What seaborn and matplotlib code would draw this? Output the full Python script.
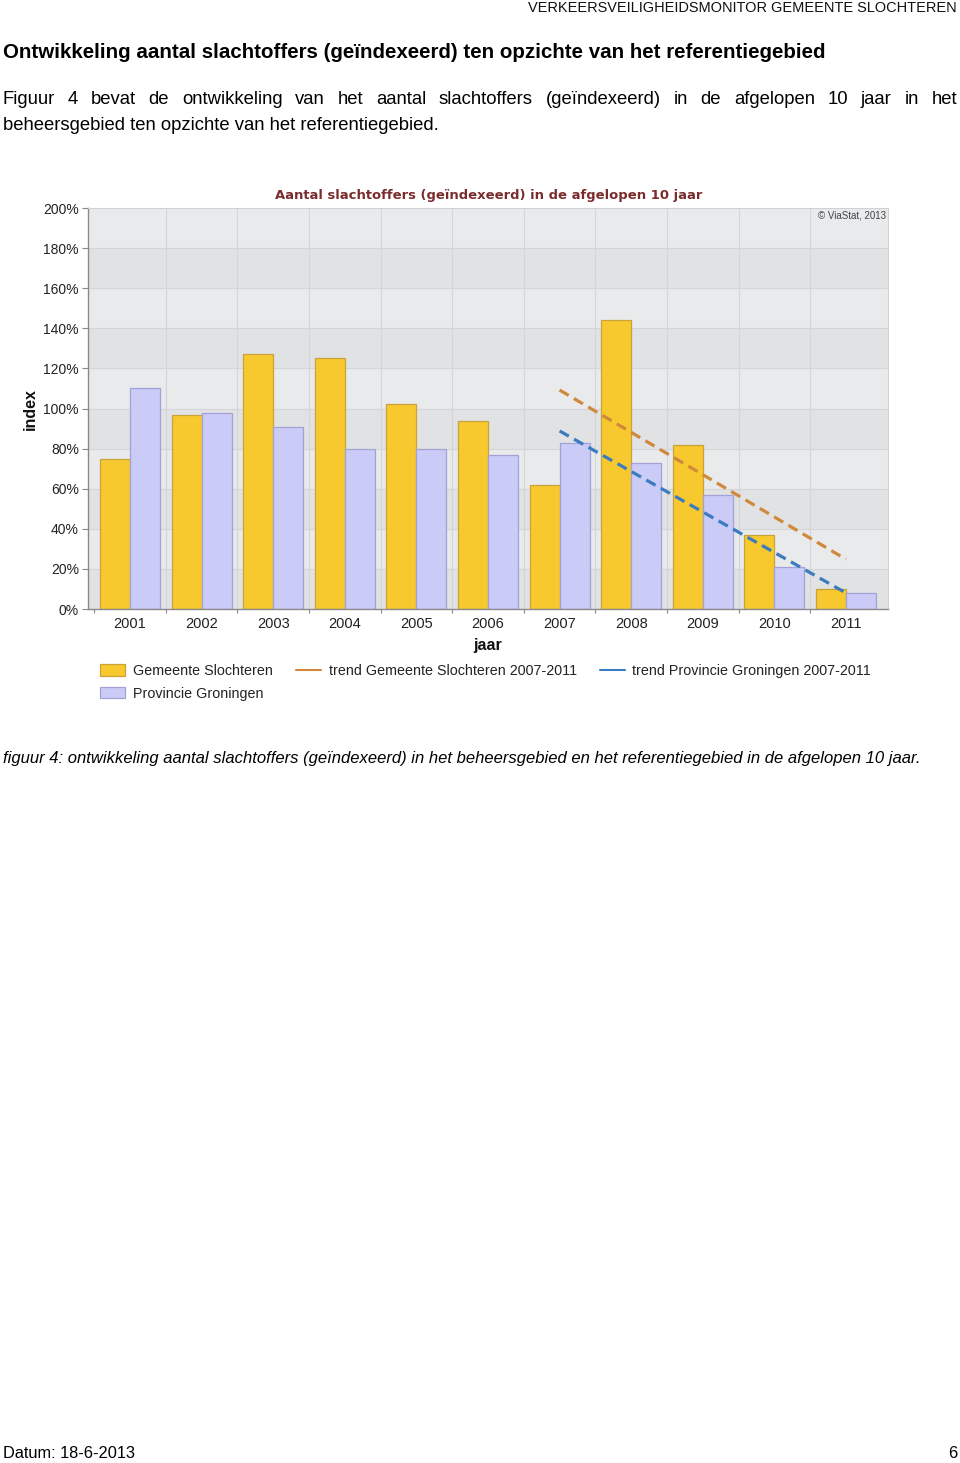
import numpy as np
import pandas as pd
import matplotlib
matplotlib.use("Agg")
import matplotlib.pyplot as plt
import seaborn as sns
from matplotlib.patches import Patch
from matplotlib.lines import Line2D

# ---------------- data ----------------
years = ["2001", "2002", "2003", "2004", "2005", "2006", "2007", "2008", "2009", "2010", "2011"]
gemeente = [75, 97, 127, 125, 102, 94, 62, 144, 82, 37, 10]
provincie = [110, 98, 91, 80, 80, 77, 83, 73, 57, 21, 8]
series_names = ["Gemeente Slochteren", "Provincie Groningen"]
trend_names = ["trend Gemeente Slochteren 2007-2011", "trend Provincie Groningen 2007-2011"]
trend_start = "2007"
yticks = [0, 20, 40, 60, 80, 100, 120, 140, 160, 180, 200]

W, H = 960, 1463
sns.set_theme(style="white")
plt.rcParams["font.family"] = ["Liberation Sans", "DejaVu Sans"]

fig = plt.figure(figsize=(W / 100, H / 100), dpi=100)
renderer = fig.canvas.get_renderer()


def fx(px):
    return px / W


def fy(py):
    return 1 - py / H


def fit_text(x, y, s, width, size=10, ha="left", **kw):
    t = fig.text(fx(x), fy(y), s, fontsize=size, ha=ha, va="center", **kw)
    bb = t.get_window_extent(renderer)
    t.set_fontsize(size * width / bb.width)
    return t


# ---------------- page text ----------------
fit_text(957, 8, "VERKEERSVEILIGHEIDSMONITOR GEMEENTE SLOCHTEREN", 426, ha="right", color="#111111")
fit_text(3, 53, "Ontwikkeling aantal slachtoffers (geïndexeerd) ten opzichte van het referentiegebied",
         827, weight="bold", color="#000000")

t2 = fit_text(3, 125, "beheersgebied ten opzichte van het referentiegebied.", 440, color="#000000")
fs_par = t2.get_fontsize()
words = "Figuur 4 bevat de ontwikkeling van het aantal slachtoffers (geïndexeerd) in de afgelopen 10 jaar in het".split()
wt = []
for w in words:
    t = fig.text(0, fy(100), w, fontsize=fs_par, ha="left", va="center", color="#000000")
    wt.append((t, t.get_window_extent(renderer).width))
total = sum(w for _, w in wt)
gap = (954 - total) / (len(wt) - 1)
xpos = 3
for t, w in wt:
    t.set_x(fx(xpos))
    xpos += w + gap

fit_text(3, 759, "figuur 4: ontwikkeling aantal slachtoffers (geïndexeerd) in het beheersgebied en het referentiegebied in de afgelopen 10 jaar.",
         923, style="italic", color="#000000")
tf = fit_text(3, 1454, "Datum: 18-6-2013", 132, color="#000000")
fig.text(fx(957), fy(1454), "6", fontsize=tf.get_fontsize(), ha="right", va="center", color="#000000")

# ---------------- chart ----------------
ax = fig.add_axes([fx(88), fy(609), 800 / W, 401 / H])
ax.set_facecolor("#e8eaec")
for lo in range(0, 200, 40):
    ax.axhspan(lo, lo + 20, color="#e1e2e4", zorder=0, lw=0)
for v in yticks[1:-1]:
    ax.axhline(v, color="#d3d5d8", lw=0.8, zorder=0.5)
for k in range(1, len(years)):
    ax.axvline(k - 0.5, color="#d3d5d8", lw=0.8, zorder=0.5)

df = pd.DataFrame({
    "jaar": years * 2,
    "index": gemeente + provincie,
    "serie": [series_names[0]] * len(years) + [series_names[1]] * len(years),
})
fills = ["#f8c92e", "#cbcbf8"]
edges = ["#c9a23a", "#a2a2d6"]
sns.barplot(data=df, x="jaar", y="index", hue="serie", order=years, hue_order=series_names,
            palette=fills, width=0.84, gap=0, saturation=1, linewidth=0.9, ax=ax, zorder=2,
            legend=False)
for cont, ec in zip(ax.containers, edges):
    for p in cont:
        p.set_edgecolor(ec)

# trend lines (least squares 2007-2011)
i0 = years.index(trend_start)
xs = np.arange(i0, len(years))
trend_cols = ["#d0893a", "#3b7bbf"]
for vals, col in zip([gemeente, provincie], trend_cols):
    a, b = np.polyfit(xs, np.array(vals[i0:], dtype=float), 1)
    ax.plot([xs[0], xs[-1]], [a * xs[0] + b, a * xs[-1] + b], color=col, lw=2.3,
            ls=(0, (3.3, 1.9)), zorder=3)

ax.set_xlim(-0.587, len(years) - 1 + 0.587)
ax.set_ylim(0, 200)
ax.set_yticks(yticks)
ax.set_yticklabels([f"{v}%" for v in yticks])
ax.set_xlabel("")
ax.set_ylabel("")
ax.tick_params(axis="y", which="major", length=4, width=0.8, color="#888888", pad=2.5,
               labelsize=10, labelcolor="#222222", left=True)
ax.tick_params(axis="x", which="major", length=0, pad=5.5, labelsize=10.5, labelcolor="#222222")
ax.set_xticks(np.arange(len(years)) - 0.5, minor=True)
ax.tick_params(axis="x", which="minor", length=3, width=0.8, color="#888888", bottom=True)
for s in ["left", "bottom"]:
    ax.spines[s].set_color("#8a8a8a")
    ax.spines[s].set_linewidth(1.0)
for s in ["top", "right"]:
    ax.spines[s].set_color("#cfd1d4")
    ax.spines[s].set_linewidth(0.8)
for s in ax.spines.values():
    s.set_zorder(5)

fit_text(489, 196, "Aantal slachtoffers (geïndexeerd) in de afgelopen 10 jaar", 428, ha="center",
         family="DejaVu Sans", weight="bold", color="#7a2b2b")
fig.text(fx(886), fy(216), "© ViaStat, 2013", fontsize=7, ha="right", va="center", color="#444444")
fig.text(fx(488), fy(646), "jaar", fontsize=11.5, weight="bold", ha="center", va="center", color="#111111")
fig.text(fx(30), fy(409), "index", fontsize=11.5, weight="bold", ha="center", va="center",
         rotation=90, color="#111111")

handles = [
    Patch(facecolor=fills[0], edgecolor=edges[0], lw=0.9),
    Patch(facecolor=fills[1], edgecolor=edges[1], lw=0.9),
    Line2D([], [], color=trend_cols[0], lw=1.5),
    Line2D([], [], color=trend_cols[1], lw=1.5),
]
labels = [series_names[0], series_names[1], trend_names[0], trend_names[1]]
fig.legend(handles, labels, loc="upper left", bbox_to_anchor=(fx(100), fy(664)), ncol=3,
           frameon=False, fontsize=10.3, borderpad=0, borderaxespad=0, handlelength=1.75,
           handleheight=0.85, handletextpad=0.55, columnspacing=1.6, labelspacing=0.6,
           labelcolor="#222222")

fig.savefig("out.png", dpi=100)
